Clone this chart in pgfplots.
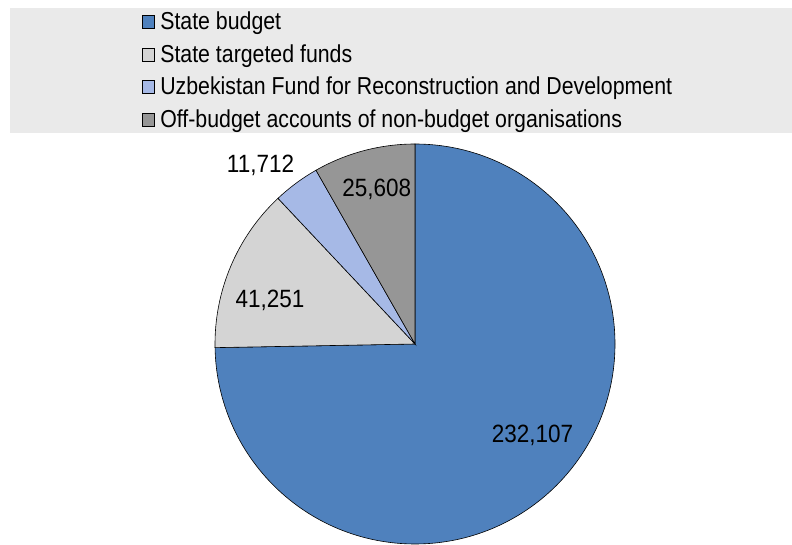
\documentclass[border=0pt]{standalone}
\usepackage{pgfplots}
\pgfplotsset{compat=1.18}
\usepackage{pgfplotstable}
\usepackage{fontspec}
\setmainfont{Liberation Sans}[FakeStretch=0.87]
\newfontfamily\lblfont{Liberation Sans}[FakeStretch=0.9]
\definecolor{cBlue}{HTML}{4F81BD}
\definecolor{cLGrey}{HTML}{D4D4D4}
\definecolor{cLBlue}{HTML}{A6B9E6}
\definecolor{cDGrey}{HTML}{969696}
\definecolor{cBg}{HTML}{EAEAEA}
\pgfplotstableread{
idx value
0 232107
1 41251
2 11712
3 25608
}\piedata
\pgfplotstablegetelem{0}{value}\of\piedata \edef\va{\pgfplotsretval}
\pgfplotstablegetelem{1}{value}\of\piedata \edef\vb{\pgfplotsretval}
\pgfplotstablegetelem{2}{value}\of\piedata \edef\vc{\pgfplotsretval}
\pgfplotstablegetelem{3}{value}\of\piedata \edef\vd{\pgfplotsretval}
\edef\T{\fpeval{\va+\vb+\vc+\vd}}
\edef\aA{90}
\edef\aB{\fpeval{90-360*\va/\T}}
\edef\aC{\fpeval{\aB-360*\vb/\T}}
\edef\aD{\fpeval{\aC-360*\vc/\T}}
\edef\aE{\fpeval{\aD-360*\vd/\T}}
\begin{document}
\fontsize{24.5bp}{28bp}\selectfont
\begin{tikzpicture}
\begin{axis}[
  width=792bp, height=545bp, scale only axis,
  xmin=0, xmax=792, ymin=0, ymax=545,
  axis lines=none, clip=true,
  legend image code/.code={\draw[#1, draw=black, line width=0.6bp] (0bp,-5bp) rectangle (12bp,8bp);},
  legend cell align=left,
  legend style={at={(axis cs:141.5,533.2)}, anchor=north west, draw=none, fill=none,
    inner sep=0pt, row sep=9.5bp,
    nodes={inner sep=0pt, text height=18bp, text depth=5bp, font=\fontsize{24.5bp}{28bp}\selectfont},
    /tikz/every odd column/.style={column sep=6bp}},
]
\fill[cBg] (axis cs:10,412) rectangle (axis cs:792,537);
\path (axis cs:0,0) rectangle (axis cs:792,545);
\addlegendimage{fill=cBlue}\addlegendentry{State budget}
\addlegendimage{fill=cLGrey}\addlegendentry{State targeted funds}
\addlegendimage{fill=cLBlue}\addlegendentry{Uzbekistan Fund for Reconstruction and Development}
\addlegendimage{fill=cDGrey}\addlegendentry{Off-budget accounts of non-budget organisations}
\filldraw[fill=cBlue, draw=black, line width=0.6bp] (axis cs:415,201) -- ++(\aA:200bp) arc[start angle=\aA, end angle=\aB, radius=200bp] -- cycle;
\filldraw[fill=cLGrey, draw=black, line width=0.6bp] (axis cs:415,201) -- ++(\aB:200bp) arc[start angle=\aB, end angle=\aC, radius=200bp] -- cycle;
\filldraw[fill=cLBlue, draw=black, line width=0.6bp] (axis cs:415,201) -- ++(\aC:200bp) arc[start angle=\aC, end angle=\aD, radius=200bp] -- cycle;
\filldraw[fill=cDGrey, draw=black, line width=0.6bp] (axis cs:415,201) -- ++(\aD:200bp) arc[start angle=\aD, end angle=\aE, radius=200bp] -- cycle;
\begin{scope}[every node/.style={anchor=base, inner sep=0pt, font=\lblfont\fontsize{25bp}{28bp}\selectfont}]
\node at (axis cs:532.5,102.2) {232,107};
\node at (axis cs:270,237.2) {41,251};
\node at (axis cs:260.5,372.2) {11,712};
\node at (axis cs:376.7,348.9) {25,608};
\end{scope}
\end{axis}
\end{tikzpicture}
\end{document}
